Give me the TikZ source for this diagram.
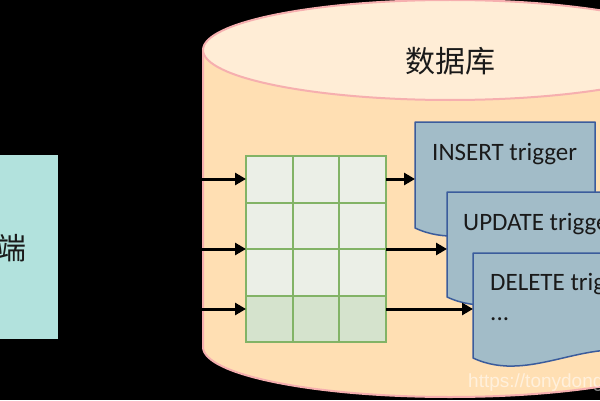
\documentclass[tikz,border=0pt]{standalone}
\usepackage{fontspec}
\setmainfont{Carlito}
\newfontfamily\cjk{Noto Sans CJK SC}
\newfontfamily\wmfont{Liberation Sans}
\usetikzlibrary{arrows.meta}
\definecolor{clientfill}{HTML}{B2E2DD}
\definecolor{cylbody}{HTML}{FFDFB3}
\definecolor{cyltop}{HTML}{FFEDD6}
\definecolor{cylline}{HTML}{F6AFAF}
\definecolor{gridline}{HTML}{82B366}
\definecolor{cellA}{HTML}{EBEFE7}
\definecolor{cellB}{HTML}{D5E3CD}
\definecolor{docfill}{HTML}{A2BCC8}
\definecolor{docline}{HTML}{3B5C9C}
\definecolor{txt}{HTML}{1A1A1A}
\tikzset{
  clientbox/.style={fill=clientfill, draw=none, inner sep=0},
  cylstroke/.style={draw=cylline, line width=2pt},
  cellbox/.style={draw=gridline, line width=2pt, minimum width=46.67pt, minimum height=46.5pt, inner sep=0, outer sep=0},
  arr/.style={draw=black, line width=3pt, -{Triangle[length=11pt,width=12pt]}},
  docstyle/.style={fill=docfill, draw=docline, line width=1.5pt, line join=round},
  trigtext/.style={font=\fontsize{25}{30}\selectfont, text=txt, inner sep=0},
  cjktext/.style={font=\cjk\fontsize{30}{36}\selectfont, text=txt, inner sep=0},
}
\newcommand\trigdoc[3]{%
  \filldraw[docstyle] (#1,#2) -- (#1+180,#2) -- (#1+180,#3)
    .. controls (#1+120,#3+28) and (#1+60,#3-28) .. (#1,#3) -- cycle;}
\begin{document}
\begin{tikzpicture}[x=1pt,y=1pt]
\useasboundingbox (0,0) rectangle (600,400);
\fill[black] (0,0) rectangle (600,400);
\clip (0,0) rectangle (600,400);
% client box
\node[clientbox, anchor=south west, minimum width=58pt, minimum height=184pt] (client) at (0,61) {};
\node[cjktext, anchor=east] (clientlabel) at (27,152) {客户端};
% cylinder
\fill[cylbody] (203,53) rectangle (697,350);
\fill[cylbody] (450,53) ellipse [x radius=247, y radius=50];
\draw[cylstroke] (203,350) -- (203,53) arc[start angle=180, end angle=360, x radius=247, y radius=50] -- (697,350);
\filldraw[cylstroke, fill=cyltop] (450,350) ellipse [x radius=247, y radius=50];
\node[cjktext] (db) at (450,339) {数据库};
% grid
\foreach \r/\f in {1/cellA,2/cellA,3/cellA,4/cellB}{
  \foreach \c in {1,2,3}{
    \node[cellbox, fill=\f] (g\r\c) at ({246+46.67*(\c-0.5)},{244-46.5*(\r-0.5)}) {};
  }
}
% documents
\trigdoc{415}{278}{172}
\coordinate (ins) at (415,221);
\node[trigtext, anchor=base west] (tins) at (432,240) {INSERT trigger};
\trigdoc{447}{208}{103}
\coordinate (upd) at (447,151);
\node[trigtext, anchor=base west] (tupd) at (463,170) {UPDATE trigger};
\trigdoc{473}{147}{42}
\coordinate (del) at (473,91);
\node[trigtext, anchor=base west] (tdel) at (490,110) {DELETE trigger};
\node[trigtext, anchor=base west] (tdots) at (490,80) {...};
% arrows in
\draw[arr] (client.east |- ins) -- (g11.west |- ins);
\draw[arr] (client.east |- upd) -- (g31.west |- upd);
\draw[arr] (client.east |- del) -- (g41.west |- del);
% arrows out
\draw[arr] (g13.east |- ins) -- (ins);
\draw[arr] (g33.east |- upd) -- (upd);
\draw[arr] (g43.east |- del) -- (del);
% watermark
\node[anchor=base west, font=\wmfont\fontsize{19}{22}\selectfont, text=white, opacity=0.55, inner sep=0] (wm) at (468,13) {https://tonydong.blog.csdn.net};
\end{tikzpicture}
\end{document}
